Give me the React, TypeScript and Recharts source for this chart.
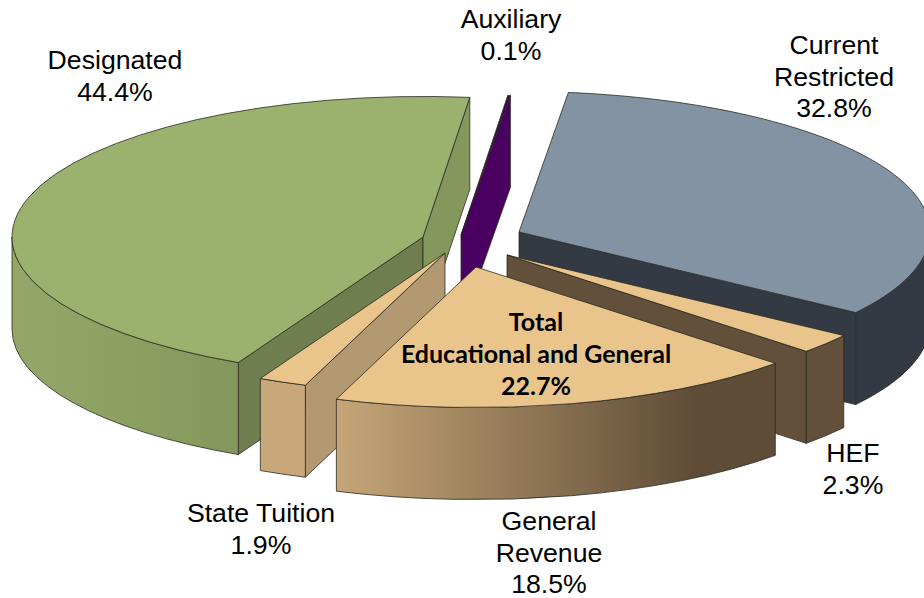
import { PieChart, Pie } from 'recharts';

const categories = ['Designated', 'Auxiliary', 'Current\nRestricted', 'HEF', 'General\nRevenue', 'State Tuition'];
const shares = [44.4, 0.1, 32.8, 2.3, 18.5, 1.9];
const totalLines = ['Total', 'Educational and General', '22.7%'];

const data = categories.map((name, i) => ({ name, value: shares[i] }));

const SQUASH = 0.342;
const DEPTH = 92;
const CX = 470;
const CY = 240;
const RADIUS = 411;
const FRONT = 'General\nRevenue';

// per slice look: how far it is pulled out, colours and where its label sits
const looks: Record<string, any> = {
  Designated: { dx: -47, dy: -3, top: '#9bb16e', wall: ['#93a868', '#85985c'], startCut: '#6e7e4f', endCut: '#84985d', lx: 115, ly: 69 },
  Auxiliary: { dx: -9, dy: -5, top: '#3a0a48', wall: ['#4a0060', '#4a0060'], startCut: '#4a0060', endCut: '#4a0060', lx: 511, ly: 28 },
  'Current\nRestricted': { dx: 49, dy: -8, top: '#8294a3', wall: ['#343a44', '#343a44'], startCut: '#343a44', endCut: '#343a44', lx: 834, ly: 54 },
  HEF: { dx: 37, dy: 15, top: '#e9c58c', wall: ['#62503a', '#62503a'], startCut: '#62503a', endCut: '#62503a', lx: 853, ly: 462 },
  'General\nRevenue': { dx: 6, dy: 27, top: '#e9c58c', wall: ['#c6a678', '#5f4c37'], startCut: '#62503a', endCut: '#62503a', lx: 549, ly: 530 },
  'State Tuition': { dx: -25, dy: 13, top: '#e9c58c', wall: ['#c8a87a', '#c8a87a'], startCut: '#b29972', endCut: '#b29972', lx: 261, ly: 522 },
};

const LINE = '#2b2b22';

function SliceShape(props: any) {
  const { cx, cy, outerRadius, startAngle, endAngle, name } = props;
  const look = looks[name] ?? looks[props.payload?.name];
  const rx = outerRadius;
  const ry = outerRadius * SQUASH;
  const ax = cx + look.dx;
  const ay = cy + look.dy;
  // clockwise degrees from 12 o'clock, first angle kept under a full turn
  const turn = 90 - startAngle >= 360 ? 360 : 0;
  const a1 = 90 - startAngle - turn;
  const a2 = 90 - endAngle - turn;
  const pt = (deg: number, drop = 0) => {
    const r = (deg * Math.PI) / 180;
    return [ax + rx * Math.sin(r), ay - ry * Math.cos(r) + drop];
  };
  const arc = (from: number, to: number, drop = 0) => {
    const [x, y] = pt(to, drop);
    const large = Math.abs(to - from) > 180 ? 1 : 0;
    const sweep = to > from ? 1 : 0;
    return `A${rx} ${ry} 0 ${large} ${sweep} ${x} ${y}`;
  };
  const [x1, y1] = pt(a1);
  const [x2, y2] = pt(a2);
  const top = `M${ax} ${ay}L${x1} ${y1}${arc(a1, a2)}Z`;

  // faces are only seen when they look down the screen
  const seen = (deg: number) => Math.cos((deg * Math.PI) / 180) < 0;
  const cut = (x: number, y: number) =>
    `M${ax} ${ay}L${x} ${y}L${x} ${y + DEPTH}L${ax} ${ay + DEPTH}Z`;

  const v1 = Math.max(a1, 90);
  const v2 = Math.min(a2, 270);
  let wall = null;
  let gradient = null;
  const gid = `wall-${name.replace(/\W/g, '')}`;
  if (v2 > v1) {
    const [wx1, wy1] = pt(v1);
    const [wx2, wy2] = pt(v2);
    const left = Math.min(wx1, wx2);
    const right = name === FRONT ? left + 360 : Math.max(wx1, wx2);
    gradient = (
      <linearGradient id={gid} gradientUnits="userSpaceOnUse" x1={left} x2={right} y1={0} y2={0}>
        <stop offset="0%" stopColor={look.wall[0]} />
        <stop offset="100%" stopColor={look.wall[1]} />
      </linearGradient>
    );
    wall = (
      <path
        d={`M${wx1} ${wy1}${arc(v1, v2)}L${wx2} ${wy2 + DEPTH}${arc(v2, v1, DEPTH)}Z`}
        fill={`url(#${gid})`}
        stroke={LINE}
        strokeWidth={0.8}
      />
    );
  }

  return (
    <g>
      {gradient && <defs>{gradient}</defs>}
      {seen(a1 - 90) && <path d={cut(x1, y1)} fill={look.startCut} stroke={LINE} strokeWidth={0.8} />}
      {seen(a2 + 90) && <path d={cut(x2, y2)} fill={look.endCut} stroke={LINE} strokeWidth={0.8} />}
      {wall}
      <path d={top} fill={look.top} stroke={LINE} strokeWidth={0.8} />
    </g>
  );
}

// General Revenue sits in front of State Tuition, so it gets its own later pass
const BackSlice = (props: any) => (props.name === FRONT ? null : <SliceShape {...props} />);
const FrontSlice = (props: any) => (props.name === FRONT ? <SliceShape {...props} /> : null);

function SliceLabel(props: any) {
  const name = props.name ?? props.payload?.name;
  const look = looks[name];
  const lines = [...name.split('\n'), `${props.value.toFixed(1)}%`];
  return (
    <g>
      <text x={look.lx} y={look.ly} textAnchor="middle" fontFamily="Liberation Sans" fontSize={26.67} fill="#000">
        {lines.map((line: string, i: number) => (
          <tspan key={line} x={look.lx} dy={i === 0 ? 0 : 31.5}>
            {line}
          </tspan>
        ))}
      </text>
      {name === FRONT && (
        <text x={536} y={331} textAnchor="middle" fontFamily="Lato" fontWeight={700} fontSize={25} fill="#000">
          {totalLines.map((line, i) => (
            <tspan key={line} x={536} dy={i === 0 ? 0 : 32}>
              {line}
            </tspan>
          ))}
        </text>
      )}
    </g>
  );
}

export default function App() {
  return (
    <div style={{ position: 'absolute', left: 0, top: 0, width: 924, height: 598, background: '#fff' }}>
      <PieChart width={924} height={598} margin={{ top: 0, right: 0, bottom: 0, left: 0 }}>
        <Pie
          data={data}
          dataKey="value"
          nameKey="name"
          cx={CX}
          cy={CY}
          innerRadius={0}
          outerRadius={RADIUS}
          startAngle={-116.7}
          endAngle={-476.7}
          stroke="none"
          shape={BackSlice}
          isAnimationActive={false}
        />
        <Pie
          data={data}
          dataKey="value"
          nameKey="name"
          cx={CX}
          cy={CY}
          innerRadius={0}
          outerRadius={RADIUS}
          startAngle={-116.7}
          endAngle={-476.7}
          stroke="none"
          shape={FrontSlice}
          label={SliceLabel}
          labelLine={false}
          isAnimationActive={false}
        />
      </PieChart>
    </div>
  );
}
